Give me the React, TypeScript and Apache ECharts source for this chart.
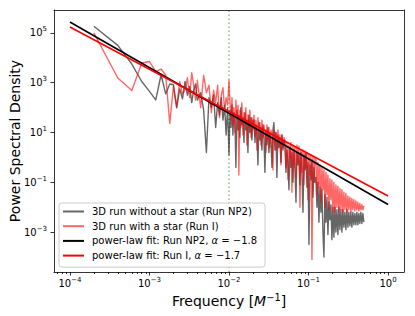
import React, { useEffect, useRef } from "react";
import * as echarts from "echarts";

// Frequencies [1/M] of the plotted spectral bins (sampled)
const frequency = [
  0.0002, 0.0004, 0.0006, 0.0008, 0.001, 0.0012, 0.0014, 0.0016, 0.0018, 0.002,
  0.0022, 0.0024, 0.0026, 0.0028, 0.003, 0.0032, 0.0034, 0.0036, 0.0038, 0.004,
  0.0044, 0.0048, 0.0052, 0.0056, 0.006, 0.0064, 0.0068, 0.0072, 0.0076, 0.008,
  0.0084, 0.0088, 0.0092, 0.0096, 0.01,
  0.0103, 0.0106, 0.0109, 0.0112, 0.0115, 0.0119, 0.0122, 0.0126, 0.013, 0.0133,
  0.0137, 0.0141, 0.0145, 0.015, 0.0154, 0.0159, 0.0163, 0.0168, 0.0173, 0.0178,
  0.0183, 0.0189, 0.0194, 0.02, 0.0206, 0.0212, 0.0218, 0.0225, 0.0231, 0.0238,
  0.0245, 0.0252, 0.0259, 0.0267, 0.0275, 0.0283, 0.0291, 0.03, 0.0309, 0.0318,
  0.0327, 0.0337, 0.0347, 0.0357, 0.0367, 0.0378, 0.0389, 0.04, 0.0412, 0.0424,
  0.0437, 0.045, 0.0463, 0.0477, 0.0491, 0.0505, 0.052, 0.0535, 0.0551, 0.0567,
  0.0584, 0.0601, 0.0619, 0.0637, 0.0656, 0.0675, 0.0695, 0.0715, 0.0736, 0.0758,
  0.078, 0.0803, 0.0827, 0.0851, 0.0876, 0.0902, 0.0928, 0.0955, 0.0983, 0.1012,
  0.1042, 0.1072, 0.1104, 0.1136, 0.1169, 0.1204, 0.1239, 0.1275, 0.1313, 0.1351,
  0.1391, 0.1432, 0.1474, 0.1517, 0.1561, 0.1607, 0.1654, 0.1703, 0.1753, 0.1804,
  0.1857, 0.1911, 0.1967, 0.2025, 0.2084, 0.2145, 0.2208, 0.2273, 0.2339, 0.2408,
  0.2479, 0.2551, 0.2626, 0.2703, 0.2782, 0.2864, 0.2948, 0.3034, 0.3123, 0.3214,
  0.3309, 0.3406, 0.3505, 0.3608, 0.3714, 0.3823, 0.3935, 0.405, 0.4169, 0.4291,
  0.4417, 0.4546, 0.468, 0.4817, 0.4958,
];

// log10 of the power spectral density, run NP2 (no star)
const psdNoStarLog = [
  5.27, 4.5, 3.75, 3.05, 2.65, 2.31, 3.32, 2.55, 2.95, 2.92,
  1.99, 2.75, 2.35, 3.05, 2.5, 2.85, 2.2, 2.7, 2.95, 2.3,
  2.6, 1.9, 0.2, 2.4, 2.0, 2.5, 1.2, 2.2, 1.7, 2.4,
  1.5, 2.1, 0.9, 2.0, 0.1,
  1.9, 1.2, 2.1, 0.9, 1.8, 1.4, -0.4, 1.9, 1.1, 1.7,
  0.8, 2.0, 1.3, 1.6, 0.6, 1.8, 1.1, 1.5, 0.2, 1.7,
  1.0, 1.6, 0.7, 1.5, 1.5, 0.6, 1.3, 0.9, -0.3, 1.4,
  0.7, 1.2, 0.3, 1.3, 0.8, -0.6, 1.1, 0.5, 1.2, 0.2,
  1.0, 0.6, -0.4, 1.1, 1.4, 0.3, 1.0, -0.8, 0.9, 0.4,
  0.8, -0.2, 0.9, 0.3, 0.7, 0.5, -0.6, 0.3, -0.2, -1.3,
  0.4, -0.4, 0.2, -1.0, 0.3, -0.5, -1.8, 0.2, -0.3, 0.1,
  -1.1, 0.2, -0.6, -2.2, 0.1, -0.5, 0.2, -1.2, -0.2, -3.5,
  -0.3, -0.9, -0.1, -1.6, -0.4, -1.0, -0.8, -2.0, -1.0, -2.6,
  -1.2, -2.2, -1.3, -3.0, -4.0, -1.5, -2.6, -1.6, -3.1, -1.8,
  -2.5, -1.9, -3.3, -2.0, -3.2, -2.0, -3.0, -2.1, -3.1, -2.0,
  -2.9, -2.1, -3.0, -2.1, -2.8, -2.2, -2.9, -2.1, -2.8, -2.2,
  -2.75, -2.2, -2.8, -2.2, -2.7, -2.25, -2.7, -2.2, -2.7, -2.25,
  -2.65, -2.2, -2.65, -2.25, -2.6,
];

// log10 of the power spectral density, run I (with a star)
const psdWithStarLog = [
  5.0, 3.19, 2.69, 3.79, 3.85, 3.45, 3.55, 3.3, 1.37, 2.85,
  2.04, 3.05, 2.55, 2.7, 3.2, 2.4, 3.4, 2.9, 2.3, 3.1,
  2.0, 3.3, 2.6, 2.9, 1.8, 2.7, 2.2, 2.9, 1.6, 2.5,
  2.8, 1.9, 2.4, 2.1, 3.1,
  2.2, 1.5, 2.4, 1.3, 2.0, 1.0, 2.3, 1.6, 2.1, -0.7,
  1.9, 1.2, 2.2, 0.9, 1.8, 1.4, 2.0, 0.5, 1.7, 1.2,
  1.9, 0.8, 1.6, 1.1, 1.7, 0.9, 1.5, 0.3, 1.6, 1.1,
  1.4, 0.5, 1.5, 0.8, 1.3, 1.0, 0.2, 1.3, 0.7, 1.2,
  0.4, 1.1, 0.9, -0.5, 1.1, 0.6, 1.0, 0.3, 1.1, 0.5,
  0.9, -0.3, 0.9, 0.4, 0.8, 0.7, -0.4, 0.6, -0.9, 0.5,
  0.0, 0.6, -1.4, 0.5, -0.3, 0.4, -0.8, 0.5, -0.2, 0.45,
  -2.0, 0.3, -0.6, 0.3, -1.1, 0.25, -0.4, 0.2, -1.7, 0.15,
  -0.7, 0.1, -4.1, 0.05, -1.0, 0.0, -0.1, -1.5, -0.2, -1.2,
  -0.3, -1.8, -0.4, -1.3, -0.5, -2.0, -0.6, -1.5, -0.7, -2.1,
  -0.85, -1.7, -0.9, -2.2, -1.0, -2.2, -1.1, -2.0, -1.15, -2.2,
  -1.25, -2.1, -1.3, -2.2, -1.4, -2.1, -1.45, -2.2, -1.55, -2.1,
  -1.6, -2.2, -1.65, -2.1, -1.7, -2.15, -1.75, -2.1, -1.8, -2.15,
  -1.85, -2.1, -1.9, -2.1, -1.95,
];

// Power-law fits (endpoints)
const fitFrequency = [1e-4, 1];
const fitNoStarLog = [5.44, -1.89];
const fitWithStarLog = [5.24, -1.55];

const markerFrequency = 0.01;
const xTickExponents = [-4, -3, -2, -1, 0];
const yTickExponents = [-3, -1, 1, 3, 5];

const seriesNames = [
  "3D run without a star (Run NP2)",
  "3D run with a star (Run I)",
  "power-law fit: Run NP2, α = −1.8",
  "power-law fit: Run I, α = −1.7",
];

const FONT = "DejaVu Sans";
const X_MIN = -4.2;
const X_MAX = 0.2;
const Y_MIN = -4.6;
const Y_MAX = 5.92;

const xMinor: number[] = [];
for (let e = -5; e <= 0; e++) {
  for (let k = 2; k <= 9; k++) {
    const v = e + Math.log10(k);
    if (v > X_MIN && v < X_MAX) xMinor.push(v);
  }
}

const toPairs = (fs: number[], ls: number[]) =>
  fs.map((f, i) => [Math.log10(f), ls[i]]);

const supLabel = (v: number) => {
  const e = Math.round(v);
  return `{b|10}{s|${e < 0 ? "\u2212" + Math.abs(e) : e}}`;
};

const tickRich = {
  b: { fontSize: 10, fontFamily: FONT, color: "#000", lineHeight: 14 },
  s: { fontSize: 7, fontFamily: FONT, color: "#000", lineHeight: 7, verticalAlign: "top" },
};

const frameLine = { show: true, onZero: false, lineStyle: { color: "#000", width: 0.8 } };
const noLine = { show: false, onZero: false };
const tickLine = { color: "#000", width: 0.8 };

function buildOption() {
  return {
    animation: false,
    textStyle: { fontFamily: FONT },
    grid: {
      left: 54,
      top: 10,
      right: 11,
      bottom: 44,
      outerBoundsMode: "none",
    },
    legend: {
      orient: "vertical",
      left: 59,
      top: 203,
      itemWidth: 21,
      itemHeight: 12,
      itemGap: 4.7,
      padding: [3.5, 8, 6.5, 3],
      backgroundColor: "rgba(255,255,255,0.8)",
      borderColor: "#cccccc",
      borderWidth: 1,
      borderRadius: 3,
      itemStyle: { opacity: 0 },
      textStyle: {
        fontFamily: FONT,
        fontSize: 10,
        color: "#000",
        padding: [0, 0, 0, 3],
        rich: { i: { fontFamily: FONT, fontSize: 10, fontStyle: "italic", color: "#000" } },
      },
      formatter: (name: string) => name.replace("α", "{i|α}"),
      data: seriesNames,
    },
    xAxis: [
      {
        type: "value",
        min: X_MIN,
        max: X_MAX,
        position: "bottom",
        axisLine: frameLine,
        splitLine: { show: false },
        axisTick: { show: true, customValues: xTickExponents, length: 3.5, lineStyle: tickLine },
        axisLabel: {
          customValues: xTickExponents,
          formatter: supLabel,
          margin: 4,
          rich: tickRich,
          color: "#000",
        },
        name: "Frequency [{i|M}{s|\u22121}]",
        nameLocation: "middle",
        nameMoveOverlap: false,
        nameGap: 20,
        nameTextStyle: {
          fontFamily: FONT,
          fontSize: 14,
          lineHeight: 18,
          color: "#000",
          rich: {
            i: { fontFamily: FONT, fontSize: 14, lineHeight: 18, fontStyle: "italic", color: "#000" },
            s: { fontFamily: FONT, fontSize: 9.8, lineHeight: 10, verticalAlign: "top", color: "#000" },
          },
        },
      },
      {
        type: "value",
        min: X_MIN,
        max: X_MAX,
        position: "bottom",
        axisLine: noLine,
        splitLine: { show: false },
        axisLabel: { show: false },
        axisTick: { show: true, customValues: xMinor, length: 2, lineStyle: tickLine },
      },
      {
        type: "value",
        min: X_MIN,
        max: X_MAX,
        position: "top",
        axisLine: frameLine,
        splitLine: { show: false },
        axisLabel: { show: false },
        axisTick: { show: false },
      },
    ],
    yAxis: [
      {
        type: "value",
        min: Y_MIN,
        max: Y_MAX,
        position: "left",
        axisLine: frameLine,
        splitLine: { show: false },
        axisTick: { show: true, customValues: yTickExponents, length: 3.5, lineStyle: tickLine },
        axisLabel: {
          customValues: yTickExponents,
          formatter: supLabel,
          margin: 7,
          rich: tickRich,
          color: "#000",
        },
        name: "Power Spectral Density",
        nameLocation: "middle",
        nameMoveOverlap: false,
        nameGap: 32,
        nameTextStyle: { fontFamily: FONT, fontSize: 14, color: "#000" },
      },
      {
        type: "value",
        min: Y_MIN,
        max: Y_MAX,
        position: "right",
        axisLine: frameLine,
        splitLine: { show: false },
        axisLabel: { show: false },
        axisTick: { show: false },
      },
    ],
    series: [
      {
        name: "marker",
        type: "line",
        data: [
          [Math.log10(markerFrequency), Y_MIN],
          [Math.log10(markerFrequency), Y_MAX],
        ],
        symbol: "none",
        silent: true,
        color: "rgba(0,128,0,0.45)",
        lineStyle: { color: "rgba(0,128,0,0.45)", type: [1.5, 2.5], width: 1.5 },
      },
      {
        name: seriesNames[0],
        type: "line",
        data: toPairs(frequency, psdNoStarLog),
        symbol: "none",
        color: "rgba(0,0,0,0.6)",
        lineStyle: { color: "rgba(0,0,0,0.6)", width: 1.4, join: "round" },
      },
      {
        name: seriesNames[1],
        type: "line",
        data: toPairs(frequency, psdWithStarLog),
        symbol: "none",
        color: "rgba(255,0,0,0.6)",
        lineStyle: { color: "rgba(255,0,0,0.6)", width: 1.4, join: "round" },
      },
      {
        name: seriesNames[2],
        type: "line",
        data: toPairs(fitFrequency, fitNoStarLog),
        symbol: "none",
        color: "#000",
        lineStyle: { color: "#000", width: 1.6 },
      },
      {
        name: seriesNames[3],
        type: "line",
        data: toPairs(fitFrequency, fitWithStarLog),
        symbol: "none",
        color: "#ff0000",
        lineStyle: { color: "#ff0000", width: 1.6 },
      },
    ],
  };
}

export default function App() {
  const ref = useRef<HTMLDivElement>(null);
  useEffect(() => {
    if (!ref.current) return;
    const chart = echarts.init(ref.current, undefined, { renderer: "svg" });
    chart.setOption(buildOption() as any);
    return () => chart.dispose();
  }, []);
  return (
    <div
      ref={ref}
      style={{ position: "fixed", left: 0, top: 0, width: 415, height: 316, background: "#fff" }}
    />
  );
}
